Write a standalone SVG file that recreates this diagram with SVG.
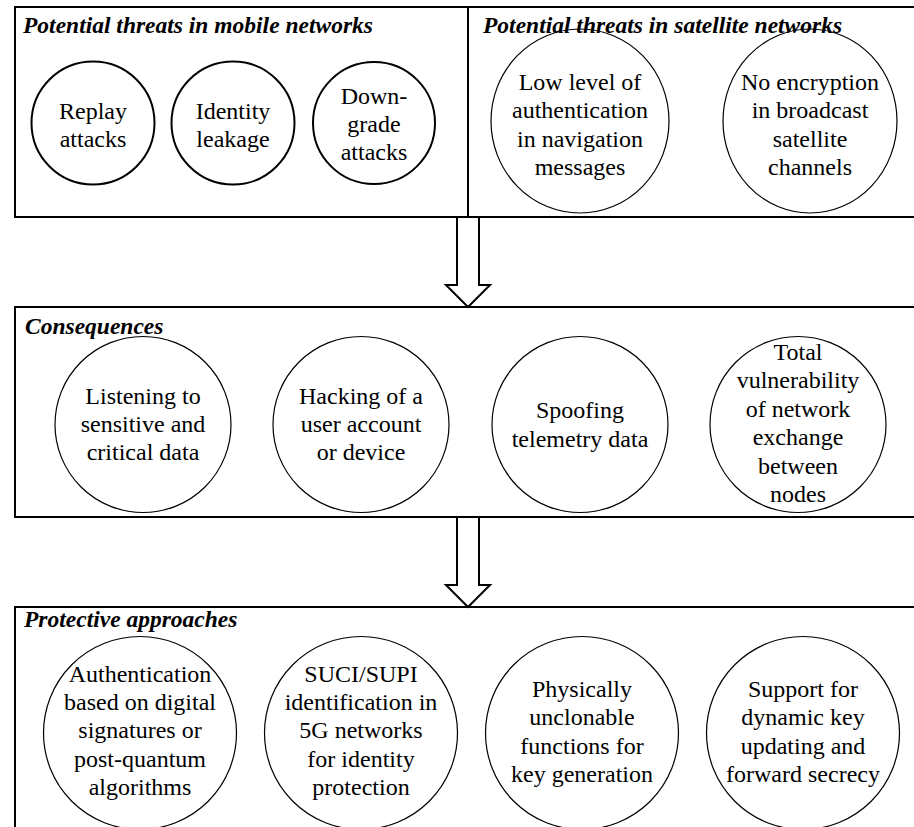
<svg xmlns="http://www.w3.org/2000/svg" width="914" height="827" viewBox="0 0 914 827">
  <style>
    .panel { fill: none; stroke: #000; stroke-width: 2; }
    .c-thick { fill: none; stroke: #000; stroke-width: 2; }
    .c-thin { fill: none; stroke: #000; stroke-width: 1.2; }
    .title { font-family: "Liberation Serif", "Times New Roman", serif; font-size: 23.5px; font-weight: bold; font-style: italic; fill: #000; }
    .lbl { font-family: "Liberation Serif", "Times New Roman", serif; font-size: 24px; fill: #000; text-anchor: middle; }
    .flow { fill: #fff; stroke: #000; stroke-width: 2; stroke-linejoin: miter; }
  </style>
  <rect width="914" height="827" fill="#fff"/>

  <!-- Threats section -->
  <g id="mobile-threats">
    <path class="panel" d="M15 7 H468 V217 H15 Z"/>
    <text class="title" x="23" y="33">Potential threats in mobile networks</text>
  </g>
  <g id="satellite-threats">
    <path class="panel" d="M468 7 H916 M468 217 H916"/>
    <text class="title" x="483" y="33">Potential threats in satellite networks</text>
  </g>

  <g id="replay">
    <circle class="c-thick" cx="93" cy="123" r="61.5"/>
    <text class="lbl" x="93" y="119">Replay</text>
    <text class="lbl" x="93" y="147">attacks</text>
  </g>
  <g id="identity-leakage">
    <circle class="c-thick" cx="233" cy="123" r="61.5"/>
    <text class="lbl" x="233" y="119">Identity</text>
    <text class="lbl" x="233" y="147">leakage</text>
  </g>
  <g id="downgrade">
    <circle class="c-thick" cx="374" cy="123" r="61"/>
    <text class="lbl" x="374" y="104">Down-</text>
    <text class="lbl" x="374" y="132">grade</text>
    <text class="lbl" x="374" y="160">attacks</text>
  </g>
  <g id="low-auth">
    <ellipse class="c-thin" cx="580" cy="121" rx="89" ry="92" stroke-width="1.5"/>
    <text class="lbl" x="580" y="90">Low level of</text>
    <text class="lbl" x="580" y="118">authentication</text>
    <text class="lbl" x="580" y="147">in navigation</text>
    <text class="lbl" x="580" y="175">messages</text>
  </g>
  <g id="no-encryption">
    <ellipse class="c-thin" cx="810" cy="121" rx="87" ry="92" stroke-width="1.5"/>
    <text class="lbl" x="810" y="90">No encryption</text>
    <text class="lbl" x="810" y="118">in broadcast</text>
    <text class="lbl" x="810" y="147">satellite</text>
    <text class="lbl" x="810" y="175">channels</text>
  </g>

  <!-- Consequences section -->
  <g id="consequences">
    <path class="panel" d="M916 307 H15 V517 H916"/>
    <text class="title" x="25" y="334">Consequences</text>
  </g>
  <g id="listening">
    <circle class="c-thin" cx="143" cy="424.5" r="88"/>
    <text class="lbl" x="143" y="404">Listening to</text>
    <text class="lbl" x="143" y="432">sensitive and</text>
    <text class="lbl" x="143" y="460">critical data</text>
  </g>
  <g id="hacking">
    <circle class="c-thin" cx="361" cy="424.5" r="88"/>
    <text class="lbl" x="361" y="404">Hacking of a</text>
    <text class="lbl" x="361" y="432">user account</text>
    <text class="lbl" x="361" y="460">or device</text>
  </g>
  <g id="spoofing">
    <circle class="c-thin" cx="580" cy="424.5" r="88"/>
    <text class="lbl" x="580" y="418">Spoofing</text>
    <text class="lbl" x="580" y="447">telemetry data</text>
  </g>
  <g id="total-vulnerability">
    <circle class="c-thin" cx="798" cy="424.5" r="88"/>
    <text class="lbl" x="798" y="360">Total</text>
    <text class="lbl" x="798" y="388">vulnerability</text>
    <text class="lbl" x="798" y="417">of network</text>
    <text class="lbl" x="798" y="445">exchange</text>
    <text class="lbl" x="798" y="474">between</text>
    <text class="lbl" x="798" y="502">nodes</text>
  </g>

  <!-- Protective approaches section -->
  <g id="protective">
    <path class="panel" d="M916 607 H15 V829"/>
    <text class="title" x="24" y="627">Protective approaches</text>
  </g>
  <g id="signatures">
    <circle class="c-thin" cx="140" cy="733" r="96.5"/>
    <text class="lbl" x="140" y="682">Authentication</text>
    <text class="lbl" x="140" y="710">based on digital</text>
    <text class="lbl" x="140" y="738">signatures or</text>
    <text class="lbl" x="140" y="767">post-quantum</text>
    <text class="lbl" x="140" y="795">algorithms</text>
  </g>
  <g id="suci-supi">
    <circle class="c-thin" cx="361" cy="733" r="96.5"/>
    <text class="lbl" x="361" y="682">SUCI/SUPI</text>
    <text class="lbl" x="361" y="710">identification in</text>
    <text class="lbl" x="361" y="738">5G networks</text>
    <text class="lbl" x="361" y="767">for identity</text>
    <text class="lbl" x="361" y="795">protection</text>
  </g>
  <g id="puf">
    <circle class="c-thin" cx="582" cy="733" r="96.5"/>
    <text class="lbl" x="582" y="697">Physically</text>
    <text class="lbl" x="582" y="725">unclonable</text>
    <text class="lbl" x="582" y="754">functions for</text>
    <text class="lbl" x="582" y="782">key generation</text>
  </g>
  <g id="forward-secrecy">
    <circle class="c-thin" cx="803" cy="733" r="96.5"/>
    <text class="lbl" x="803" y="697">Support for</text>
    <text class="lbl" x="803" y="725">dynamic key</text>
    <text class="lbl" x="803" y="754">updating and</text>
    <text class="lbl" x="803" y="782">forward secrecy</text>
  </g>

  <!-- Block arrows between sections -->
  <g id="connectors">
    <path class="flow" d="M457 217 V285 H446 L468 307 L490 285 H479 V217 Z"/>
    <path class="flow" d="M457 517 V585 H446 L468 607 L490 585 H479 V517 Z"/>
  </g>
</svg>
